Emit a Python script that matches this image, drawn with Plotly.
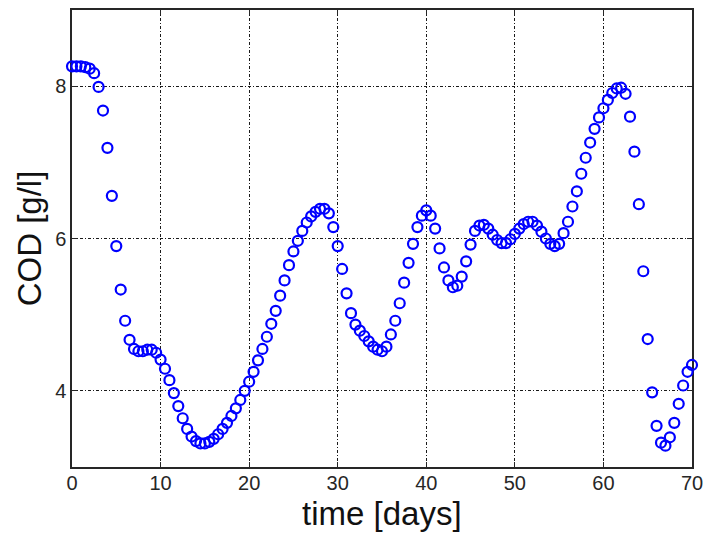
import plotly.graph_objects as go

# COD concentration sampled every half day over 70 days
cod_gl = [
    8.26, 8.26, 8.26, 8.25, 8.23, 8.17, 7.99, 7.68, 7.19, 6.56,
    5.90, 5.33, 4.92, 4.67, 4.55, 4.52, 4.52, 4.54, 4.54, 4.50,
    4.41, 4.29, 4.14, 3.97, 3.80, 3.64, 3.50, 3.40, 3.34, 3.31,
    3.31, 3.33, 3.37, 3.43, 3.50, 3.58, 3.67, 3.77, 3.88, 4.00,
    4.12, 4.25, 4.40, 4.55, 4.71, 4.88, 5.05, 5.25, 5.45, 5.65,
    5.83, 5.97, 6.10, 6.21, 6.29, 6.35, 6.39, 6.39, 6.33, 6.15,
    5.90, 5.60, 5.28, 5.02, 4.87, 4.79, 4.72, 4.65, 4.58, 4.54,
    4.52, 4.58, 4.74, 4.92, 5.15, 5.42, 5.68, 5.93, 6.15, 6.30,
    6.37, 6.30, 6.13, 5.87, 5.62, 5.45, 5.36, 5.38, 5.50, 5.70,
    5.92, 6.10, 6.17, 6.18, 6.13, 6.05, 5.98, 5.94, 5.94, 5.99,
    6.06, 6.13, 6.19, 6.22, 6.22, 6.17, 6.09, 6.00, 5.93, 5.90,
    5.93, 6.07, 6.22, 6.42, 6.62, 6.85, 7.06, 7.26, 7.44, 7.59,
    7.71, 7.82, 7.91, 7.97, 7.98, 7.90, 7.60, 7.14, 6.45, 5.57,
    4.68, 3.98, 3.54, 3.32, 3.28, 3.39, 3.58, 3.83, 4.07, 4.25,
    4.34,
]
sample_step_days = 0.5
time_days = [i * sample_step_days for i in range(len(cod_gl))]

x_ticks = [0, 10, 20, 30, 40, 50, 60, 70]
y_ticks = [4, 6, 8]

font_family = "Liberation Sans, Arial, sans-serif"
ink = "#262626"

fig = go.Figure(
    go.Scatter(
        x=time_days,
        y=cod_gl,
        mode="markers",
        marker=dict(
            symbol="circle-open",
            size=10,
            color="#0000ff",
            line=dict(width=2.2, color="#0000ff"),
        ),
        showlegend=False,
        cliponaxis=False,
    )
)

axis_common = dict(
    showline=True,
    linecolor=ink,
    linewidth=1.5,
    mirror="ticks",
    ticks="inside",
    ticklen=5,
    tickcolor=ink,
    showgrid=True,
    gridcolor="#1a1a1a",
    gridwidth=1,
    griddash="3px,2px,1px,2px",
    zeroline=False,
    automargin=False,
    tickfont=dict(family=font_family, size=20, color=ink),
    layer="below traces",
)

fig.update_xaxes(range=[0, 70], tickvals=x_ticks,
                 ticktext=[str(v) for v in x_ticks],
                 ticklabelstandoff=-3, **axis_common)
fig.update_yaxes(range=[3, 9], tickvals=y_ticks,
                 ticktext=[str(v) for v in y_ticks], **axis_common)

# Axis titles placed as annotations so their distance from the tick labels is fixed
title_font = dict(family=font_family, size=33, color="#111")
fig.add_annotation(text="time [days]", xref="paper", yref="paper",
                   x=0.5, y=-0.1444, xanchor="center", yanchor="bottom",
                   borderpad=0, showarrow=False, font=title_font)
fig.add_annotation(text="COD [g/l]", xref="paper", yref="paper",
                   x=-0.068, y=0.5, xanchor="center", yanchor="middle",
                   textangle=-90, showarrow=False, font=title_font)

fig.update_layout(
    width=706,
    height=533,
    margin=dict(l=72, r=14, t=10, b=66),
    paper_bgcolor="white",
    plot_bgcolor="white",
)

fig.write_html("out.html")
